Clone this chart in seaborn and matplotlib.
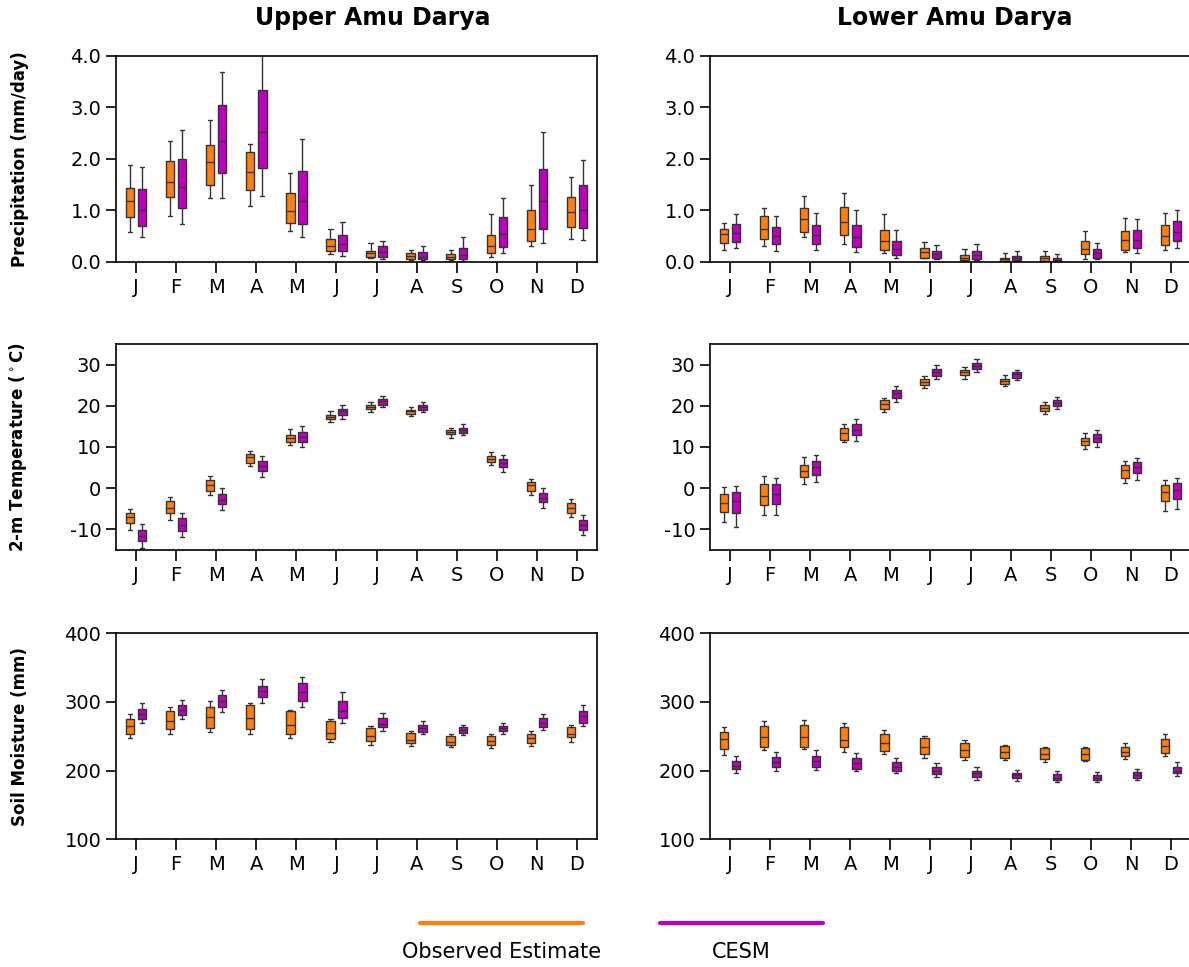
import matplotlib
matplotlib.use("Agg")
import matplotlib.pyplot as plt
import seaborn as sns
import pandas as pd
from matplotlib.lines import Line2D

# ---------------- data (lo whisker, Q1, median, Q3, hi whisker) ----------------
month_keys = ["Jan", "Feb", "Mar", "Apr", "May", "Jun",
              "Jul", "Aug", "Sep", "Oct", "Nov", "Dec"]
month_labels = ["J", "F", "M", "A", "M", "J", "J", "A", "S", "O", "N", "D"]
series = ["Observed Estimate", "CESM"]
colors = ["#ff7f0e", "#bf00bf"]
col_titles = ["Upper Amu Darya", "Lower Amu Darya"]
row_labels = ["Precipitation (mm/day)", r"2-m Temperature ($^\circ$C)", "Soil Moisture (mm)"]

up_pr_obs = [(0.58, 0.86, 1.17, 1.44, 1.88), (0.88, 1.25, 1.55, 1.95, 2.34),
             (1.23, 1.49, 1.94, 2.27, 2.75), (1.08, 1.39, 1.75, 2.13, 2.29),
             (0.59, 0.75, 0.99, 1.34, 1.73), (0.14, 0.20, 0.31, 0.44, 0.64),
             (0.07, 0.10, 0.175, 0.21, 0.36), (0.04, 0.05, 0.11, 0.17, 0.23),
             (0.04, 0.05, 0.10, 0.14, 0.23), (0.09, 0.17, 0.31, 0.51, 0.92),
             (0.31, 0.40, 0.64, 1.01, 1.49), (0.44, 0.67, 0.97, 1.26, 1.65)]
up_pr_cesm = [(0.48, 0.70, 1.01, 1.42, 1.83), (0.74, 1.04, 1.46, 2.00, 2.56),
              (1.23, 1.73, 2.34, 3.05, 3.68), (1.27, 1.82, 2.52, 3.34, 4.30),
              (0.47, 0.73, 1.18, 1.76, 2.38), (0.11, 0.20, 0.34, 0.52, 0.77),
              (0.05, 0.10, 0.19, 0.30, 0.41), (0.03, 0.05, 0.10, 0.19, 0.30),
              (0.01, 0.06, 0.13, 0.27, 0.47), (0.16, 0.29, 0.53, 0.86, 1.24),
              (0.36, 0.64, 1.17, 1.80, 2.51), (0.42, 0.65, 1.01, 1.49, 1.97)]
lo_pr_obs = [(0.23, 0.37, 0.53, 0.64, 0.76), (0.31, 0.44, 0.64, 0.88, 1.05),
             (0.47, 0.57, 0.83, 1.05, 1.27), (0.34, 0.51, 0.78, 1.06, 1.34),
             (0.17, 0.23, 0.41, 0.62, 0.92), (0.07, 0.08, 0.18, 0.26, 0.38),
             (0.01, 0.03, 0.08, 0.13, 0.25), (0.005, 0.01, 0.045, 0.08, 0.17),
             (0.005, 0.02, 0.07, 0.11, 0.20), (0.06, 0.14, 0.24, 0.40, 0.59),
             (0.18, 0.23, 0.43, 0.59, 0.84), (0.22, 0.32, 0.50, 0.71, 0.95)]
lo_pr_cesm = [(0.27, 0.38, 0.55, 0.73, 0.92), (0.21, 0.34, 0.49, 0.68, 0.88),
              (0.23, 0.34, 0.51, 0.72, 0.94), (0.18, 0.29, 0.48, 0.71, 1.00),
              (0.08, 0.13, 0.24, 0.40, 0.61), (0.06, 0.08, 0.15, 0.20, 0.32),
              (0.03, 0.06, 0.13, 0.20, 0.34), (0.02, 0.03, 0.08, 0.12, 0.20),
              (0.005, 0.01, 0.04, 0.08, 0.15), (0.05, 0.08, 0.16, 0.25, 0.37),
              (0.16, 0.27, 0.43, 0.62, 0.83), (0.27, 0.40, 0.58, 0.79, 1.00)]

up_t_obs = [(-10.1, -8.4, -7.1, -6.0, -5.1), (-7.7, -6.0, -4.7, -3.2, -2.1),
            (-1.6, -0.6, 0.8, 1.9, 3.0), (5.3, 6.2, 7.5, 8.2, 9.0),
            (10.4, 11.1, 12.2, 12.9, 14.4), (16.1, 16.7, 17.2, 17.7, 18.8),
            (18.5, 19.3, 19.8, 20.3, 20.9), (17.6, 18.1, 18.7, 19.1, 19.6),
            (12.3, 13.2, 13.6, 14.1, 14.6), (5.7, 6.4, 7.2, 7.9, 8.7),
            (-1.7, -0.6, 0.8, 1.5, 2.2), (-6.9, -5.9, -4.9, -3.7, -2.6)]
up_t_cesm = [(-14.4, -12.9, -11.6, -10.1, -8.7), (-11.8, -10.4, -9.0, -7.3, -6.1),
             (-5.4, -3.9, -2.8, -1.4, 0.0), (2.8, 4.1, 5.4, 6.6, 7.9),
             (10.1, 11.3, 12.5, 13.7, 15.0), (16.9, 17.8, 18.7, 19.3, 20.1),
             (19.7, 20.3, 21.1, 21.7, 22.3), (18.5, 19.1, 19.7, 20.2, 20.9),
             (12.8, 13.5, 14.2, 14.7, 15.5), (3.9, 5.1, 6.2, 7.1, 8.0),
             (-4.7, -3.4, -2.3, -1.1, 0.0), (-11.4, -10.2, -9.0, -7.7, -6.5)]
lo_t_obs = [(-8.2, -5.7, -3.6, -1.5, 0.3), (-6.5, -4.0, -2.0, 1.0, 2.9),
            (1.0, 2.8, 4.1, 5.7, 7.5), (11.3, 11.8, 13.4, 14.7, 15.5),
            (18.5, 19.3, 20.4, 21.3, 21.8), (24.3, 25.1, 25.8, 26.4, 27.2),
            (26.6, 27.5, 28.1, 28.6, 29.4), (24.7, 25.3, 25.9, 26.5, 27.4),
            (18.1, 18.8, 19.5, 20.1, 20.9), (9.6, 10.6, 11.4, 12.2, 13.4),
            (1.2, 2.4, 4.5, 5.7, 6.5), (-5.5, -3.1, -1.0, 0.8, 2.0)]
lo_t_cesm = [(-9.3, -6.1, -3.0, -0.9, 0.6), (-6.5, -3.8, -1.3, 1.0, 2.5),
             (1.5, 3.3, 5.2, 6.6, 8.0), (11.4, 12.9, 14.2, 15.6, 16.9),
             (21.0, 21.9, 23.0, 23.9, 24.7), (26.4, 27.3, 28.1, 29.0, 29.9),
             (28.1, 29.0, 29.7, 30.4, 31.4), (26.2, 26.8, 27.6, 28.1, 28.7),
             (19.3, 19.9, 20.6, 21.4, 22.2), (10.1, 11.3, 12.2, 13.2, 14.2),
             (2.0, 3.6, 5.1, 6.4, 7.3), (-5.1, -2.7, -0.4, 1.3, 2.5)]

up_sm_obs = [(247, 254, 265, 275, 282), (254, 260, 273, 287, 293),
             (256, 262, 278, 293, 301), (253, 260, 277, 296, 299),
             (247, 254, 266, 287, 289), (241, 246, 255, 272, 275),
             (238, 243, 250, 262, 265), (236, 240, 245, 255, 257),
             (234, 238, 242, 250, 253), (233, 237, 243, 250, 253),
             (236, 240, 247, 253, 257), (241, 249, 253, 263, 267)]
up_sm_cesm = [(270, 275, 283, 290, 298), (275, 281, 288, 295, 303),
              (285, 293, 302, 310, 318), (299, 307, 316, 323, 333),
              (292, 302, 315, 327, 337), (269, 277, 287, 302, 315),
              (258, 264, 268, 276, 284), (253, 256, 262, 266, 272),
              (252, 255, 259, 263, 267), (254, 258, 262, 265, 270),
              (259, 264, 269, 276, 282), (265, 270, 279, 287, 295)]
lo_sm_obs = [(223, 231, 246, 256, 264), (230, 234, 249, 265, 272),
             (232, 235, 249, 267, 274), (227, 234, 244, 263, 269),
             (224, 229, 240, 254, 259), (218, 224, 235, 248, 250),
             (216, 220, 230, 240, 244), (215, 219, 227, 236, 238),
             (213, 217, 224, 233, 235), (214, 216, 224, 233, 235),
             (217, 221, 227, 234, 240), (221, 225, 236, 246, 253)]
lo_sm_cesm = [(197, 202, 207, 214, 222), (199, 206, 213, 220, 227),
              (201, 206, 214, 222, 230), (199, 203, 211, 218, 226),
              (196, 200, 205, 212, 218), (191, 195, 200, 205, 211),
              (186, 191, 196, 200, 205), (185, 189, 193, 197, 201),
              (184, 187, 190, 195, 199), (183, 187, 190, 194, 198),
              (186, 189, 193, 198, 202), (192, 196, 200, 206, 212)]

y_limits = [(0, 4), (-15, 35), (100, 400)]
y_ticks = [[0, 1, 2, 3, 4], [-10, 0, 10, 20, 30], [100, 200, 300, 400]]
y_fmt = ["{:.1f}", "{:d}", "{:d}"]

panels = [[(up_pr_obs, up_pr_cesm), (lo_pr_obs, lo_pr_cesm)],
          [(up_t_obs, up_t_cesm), (lo_t_obs, lo_t_cesm)],
          [(up_sm_obs, up_sm_cesm), (lo_sm_obs, lo_sm_cesm)]]


def long_frame(obs, cesm):
    rows = []
    for name, boxes in zip(series, [obs, cesm]):
        for m, stats in zip(month_keys, boxes):
            for v in stats:
                rows.append((m, name, v))
    return pd.DataFrame(rows, columns=["month", "source", "value"])


# ---------------- figure ----------------
sns.set_style("ticks")
plt.rcParams["font.family"] = ["DejaVu Sans"]
plt.rcParams["axes.unicode_minus"] = False
for key in ["axes.edgecolor", "text.color", "axes.labelcolor",
            "xtick.color", "ytick.color"]:
    plt.rcParams[key] = "black"

W, H = 1189, 967
fig = plt.figure(figsize=(W / 100, H / 100), dpi=100)

lefts = [116 / W, 710 / W]
aw = 481 / W
ah = 206 / H
bottoms = [(H - 261.7) / H, (H - 550) / H, (H - 839.3) / H]

for r in range(3):
    for c in range(2):
        ax = fig.add_axes([lefts[c], bottoms[r], aw, ah])
        obs, cesm = panels[r][c]
        df = long_frame(obs, cesm)
        sns.boxplot(data=df, x="month", y="value", hue="source",
                    order=month_keys, hue_order=series, palette=colors,
                    whis=(0, 100), width=0.6, gap=0.3, saturation=1,
                    linecolor="#333333", linewidth=1.0, showfliers=False,
                    legend=False, ax=ax)
        ax.set_xlim(-0.5, 11.5)
        ax.set_ylim(*y_limits[r])
        ax.set_yticks(y_ticks[r])
        ax.set_yticklabels([y_fmt[r].format(t) for t in y_ticks[r]])
        ax.set_xticks(range(12))
        ax.set_xticklabels(month_labels)
        ax.set_xlabel("")
        ax.tick_params(axis="both", direction="out", length=7, width=1.2,
                       labelsize=14, colors="black")
        ax.tick_params(axis="x", length=8)
        for s in ax.spines.values():
            s.set_linewidth(1.2)
            s.set_color("black")
        if c == 0:
            ax.set_ylabel(row_labels[r], fontsize=12, fontweight="bold",
                          color="black")
            ax.yaxis.set_label_coords(-0.18, 0.5)
        else:
            ax.set_ylabel("")

# column titles
fig.text(373 / W, 1 - 18 / H, col_titles[0], ha="center", va="center",
         fontsize=17, fontweight="bold", color="black")
fig.text(955 / W, 1 - 18 / H, col_titles[1], ha="center", va="center",
         fontsize=17, fontweight="bold", color="black")

# legend: coloured line above each label
leg_x = [(420, 583), (660, 823)]
for (x0, x1), name, col in zip(leg_x, series, colors):
    fig.add_artist(Line2D([x0 / W, x1 / W], [1 - 923 / H, 1 - 923 / H],
                          color=col, linewidth=3, transform=fig.transFigure))
    fig.text((x0 + x1) / 2 / W, 1 - 952 / H, name, ha="center", va="center",
             fontsize=15, color="black")

fig.savefig("out.png", dpi=100)
